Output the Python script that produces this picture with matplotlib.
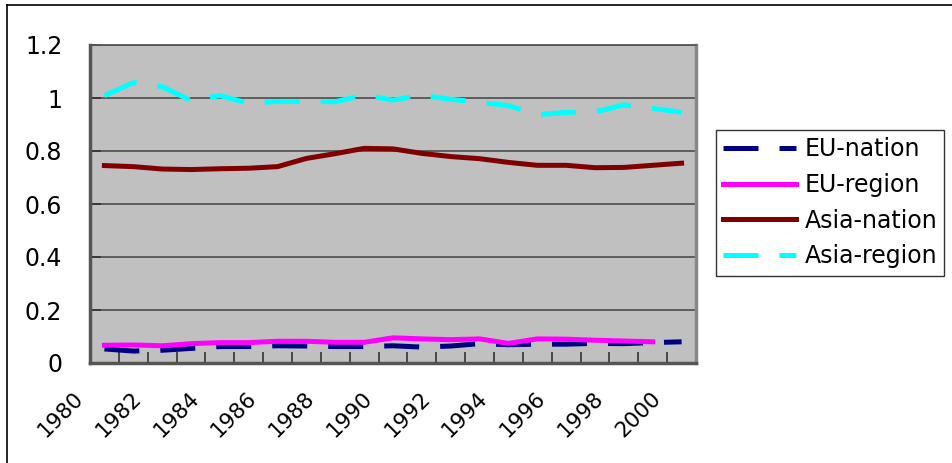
import matplotlib.pyplot as plt
from matplotlib.lines import Line2D
from matplotlib.transforms import ScaledTranslation

years = list(range(1980, 2001))
eu_nation = [0.053, 0.045, 0.048, 0.055, 0.062, 0.062, 0.065, 0.064, 0.062, 0.062, 0.065,
             0.060, 0.064, 0.073, 0.069, 0.071, 0.071, 0.074, 0.073, 0.077, 0.080]
eu_region = [0.067, 0.068, 0.065, 0.073, 0.077, 0.077, 0.082, 0.082, 0.078, 0.078, 0.095,
             0.091, 0.088, 0.091, 0.074, 0.091, 0.090, 0.086, 0.083, 0.080]
asia_nation = [0.745, 0.741, 0.732, 0.730, 0.733, 0.735, 0.741, 0.772, 0.790, 0.810, 0.808,
               0.791, 0.779, 0.771, 0.757, 0.746, 0.746, 0.737, 0.738, 0.746, 0.754]
asia_region = [1.009, 1.058, 1.043, 0.990, 1.009, 0.980, 0.987, 0.987, 0.986, 1.011, 0.992,
               1.011, 0.995, 0.984, 0.971, 0.937, 0.946, 0.948, 0.974, 0.961, 0.946]
y_ticks = [0, 0.2, 0.4, 0.6, 0.8, 1, 1.2]
y_labels = ["0", "0.2", "0.4", "0.6", "0.8", "1", "1.2"]

fig = plt.figure(figsize=(9.52, 4.63), dpi=100)
ax = fig.add_axes([90 / 952, 1 - 363 / 463, 606 / 952, 318 / 463])
ax.set_facecolor("#C0C0C0")

x = list(range(len(years)))
dash = (7, 4.2)
ax.plot(x, eu_nation, color="#000080", lw=3.6, dashes=dash, dash_capstyle="butt",
        label="EU-nation", zorder=3)
ax.plot(x[:len(eu_region)], eu_region, color="#FF00FF", lw=3.6, label="EU-region", zorder=4)
ax.plot(x, asia_nation, color="#800000", lw=3.6, label="Asia-nation", zorder=3)
ax.plot(x, asia_region, color="#00FFFF", lw=3.6, dashes=dash, dash_capstyle="butt",
        label="Asia-region", zorder=3)

ax.set_xlim(-0.5, len(years) - 0.5)
ax.set_ylim(0, 1.2)
ax.set_yticks(y_ticks)
ax.set_yticklabels(y_labels, fontsize=17)
for v in y_ticks[1:]:
    ax.axhline(v, color="#555555", lw=1.3, zorder=1)

ax.set_xticks([i - 0.5 for i in range(1, len(years) + 1)], minor=True)
ax.tick_params(axis="x", which="minor", direction="in", length=8, width=1.2, color="#333333")
ax.tick_params(axis="y", direction="in", length=8, width=1.2, color="#333333", pad=20)
ax.set_xticks(x[::2])
ax.tick_params(axis="x", which="major", length=0, pad=0)
ax.set_xticklabels([str(y) for y in years[::2]], fontsize=15.5, rotation=45,
                   ha="right", va="top", rotation_mode="anchor")

for side in ["left", "bottom"]:
    ax.spines[side].set_color("#555555")
    ax.spines[side].set_linewidth(2.5)
ax.spines["right"].set_color("#888888")
ax.spines["right"].set_linewidth(2.5)
ax.spines["top"].set_color("#555555")
ax.spines["top"].set_linewidth(1.3)

leg = ax.legend(loc="upper left", bbox_to_anchor=(716 / 952, 1 - 130 / 463),
                bbox_transform=fig.transFigure, fontsize=17, frameon=True,
                fancybox=False, edgecolor="black", handlelength=3.1, handletextpad=0.35,
                labelspacing=0.5, borderpad=0.3, borderaxespad=0)
leg.get_frame().set_linewidth(1.0)

fig.add_artist(Line2D([7 / 952, 7 / 952], [0, 1 - 5 / 463], color="black", lw=1.2,
                      transform=fig.transFigure))
fig.add_artist(Line2D([7 / 952, 1], [1 - 5 / 463, 1 - 5 / 463], color="black", lw=1.2,
                      transform=fig.transFigure))

offset = ScaledTranslation(-31 / 100, -25 / 100, fig.dpi_scale_trans)
for lab in ax.get_xticklabels():
    lab.set_transform(lab.get_transform() + offset)

fig.savefig("out.png", dpi=100)
